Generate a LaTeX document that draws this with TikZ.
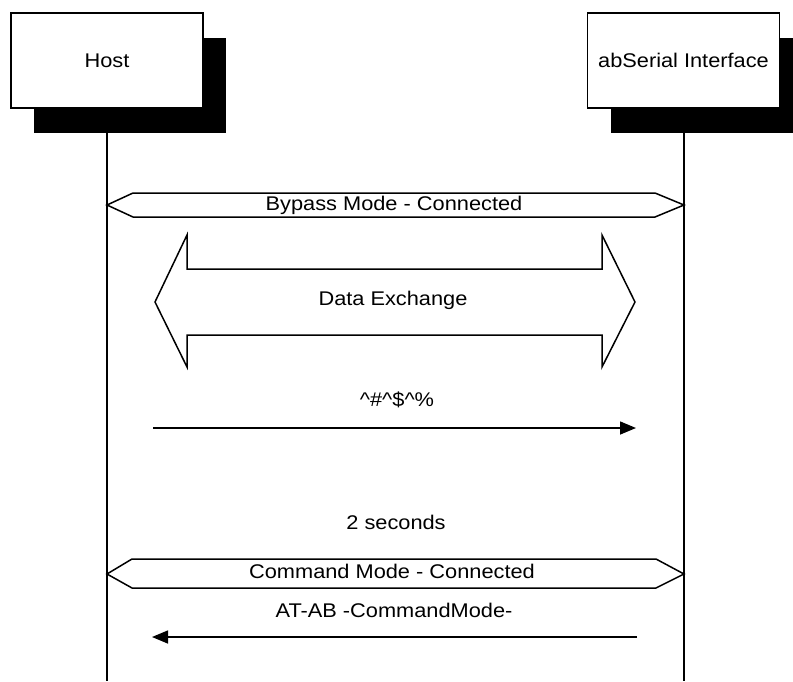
\documentclass[tikz,border=0pt]{standalone}
\usepackage{fontspec}
\setmainfont[FakeStretch=1.1]{Liberation Sans}
\usetikzlibrary{arrows.meta,shadows}
\begin{document}
\begin{tikzpicture}[x=1pt,y=-1pt,
  font=\fontsize{19.8}{24}\selectfont,
  lane/.style={line width=1.6pt},
  hdr/.style={draw, line width=1.5pt, fill=white, minimum width=192pt, minimum height=95pt, inner sep=0pt,
    drop shadow={shadow xshift=23pt, shadow yshift=-25pt, fill=black, opacity=1}},
  band/.style={draw, line width=1.5pt, fill=white, line join=miter},
  msg/.style={line width=1.5pt, -{Triangle[length=16pt,width=13pt]}},
  lbl/.style={inner sep=0pt}]
\useasboundingbox (0,0) rectangle (793,681);

% lifelines
\coordinate (hostEnd) at (107,681);
\coordinate (serEnd) at (684,681);
\draw[lane] (107,108) -- (hostEnd);
\draw[lane] (684,108) -- (serEnd);

% headers
\node[hdr] (host) at (107,60.5) {Host};
\node[hdr] (ser) at (683.5,60.5) {abSerial Interface};

% Bypass Mode band
\draw[band] (107,205) -- (133,193) -- (655,193) -- (684,205) -- (655,217) -- (133,217) -- cycle;
\node[lbl] (bypass) at (394,205) {Bypass Mode - Connected};

% Data Exchange band
\draw[band] (155,302) -- (187,235) -- (187,269) -- (602,269) -- (602,235) -- (635,302)
  -- (602,367) -- (602,335) -- (187,335) -- (187,367) -- cycle;
\node[lbl] (dex) at (393,300) {Data Exchange};

% ^#^$^% message
\node[lbl] (esc) at (397,400) {\^{}\#\^{}\$\^{}\%};
\coordinate (m1s) at (153,428);
\coordinate (m1e) at (636,428);
\draw[msg] (m1s) -- (m1e);

% 2 seconds
\node[lbl] (twosec) at (396,522) {2 seconds};

% Command Mode band
\draw[band] (107,574) -- (132,559) -- (656,559) -- (684,574) -- (656,588) -- (132,588) -- cycle;
\node[lbl] (cmd) at (392,571) {Command Mode - Connected};

% AT-AB message
\node[lbl] (atab) at (394,610) {AT-AB -CommandMode-};
\coordinate (m2s) at (637,637);
\coordinate (m2e) at (152,637);
\draw[msg] (m2s) -- (m2e);
\end{tikzpicture}
\end{document}
